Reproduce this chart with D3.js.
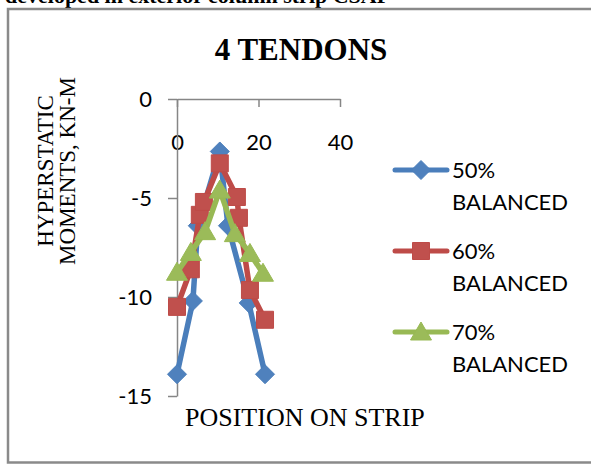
<!DOCTYPE html>
<html>
<head>
<meta charset="utf-8">
<script src="https://cdn.jsdelivr.net/npm/d3@7"></script>
<style>
  html, body { margin: 0; padding: 0; background: #fff; }
  svg { display: block; }
</style>
</head>
<body>
<svg id="chart" width="591" height="464"></svg>
<script>
// Hyperstatic moments along the exterior column strip, 4 tendons
const seriesNames = ["50% BALANCED", "60% BALANCED", "70% BALANCED"];
const blueX  = [0, 3.9, 5.1, 10.5, 12.5, 17.6, 21.6];
const blueY  = [-13.9, -10.2, -6.4, -2.65, -6.4, -10.3, -13.9];
const redX   = [0, 3.4, 5.6, 6.6, 10.5, 14.7, 15.2, 17.9, 21.6];
const redY   = [-10.5, -8.6, -5.85, -5.2, -3.25, -4.95, -6.0, -9.65, -11.15];
const greenX = [0, 3.4, 6.9, 10.5, 14.2, 17.9, 21.1];
const greenY = [-8.75, -7.75, -6.7, -4.6, -6.8, -7.8, -8.8];
const xTicks = [0, 20, 40];
const yTicks = [0, -5, -10, -15];

const series = [
  { name: seriesNames[0], xs: blueX,  ys: blueY,  line: "#4A7EBB", fill: "#4F81BD", marker: "diamond" },
  { name: seriesNames[1], xs: redX,   ys: redY,   line: "#BE4B48", fill: "#C0504D", marker: "square" },
  { name: seriesNames[2], xs: greenX, ys: greenY, line: "#98B954", fill: "#9BBB59", marker: "triangle" }
];

const svg = d3.select("#chart");
const axisColor = "#868686";
const tickFont = "Lato, 'Open Sans', sans-serif";
const serif = "'Liberation Serif', 'Times New Roman', serif";
const fmt = v => String(v); // plain hyphen for negatives

// caption line above the frame (runs off the top edge)
svg.append("text")
  .attr("x", 5).attr("y", 3)
  .attr("font-family", serif).attr("font-weight", "bold")
  .attr("font-size", 22).attr("fill", "#000")
  .text("developed in exterior column strip CSAP");

// chart frame
svg.append("path")
  .attr("d", "M600,9 H8 V462.5 H600")
  .attr("fill", "none").attr("stroke", "#8a8a8a").attr("stroke-width", 2.5);

// title
svg.append("text")
  .attr("x", 301).attr("y", 60)
  .attr("text-anchor", "middle")
  .attr("font-family", serif).attr("font-weight", "bold")
  .attr("font-size", 31).attr("fill", "#000")
  .text("4 TENDONS");

const x = d3.scaleLinear().domain([0, 40]).range([177, 340]);
const y = d3.scaleLinear().domain([0, -15]).range([99, 396]);

// x axis (values are all negative, so the axis sits at the top, y = 0)
const gx = svg.append("g")
  .attr("transform", `translate(0,${y(0)})`)
  .call(d3.axisBottom(x).tickValues(xTicks).tickFormat(fmt)
    .tickSize(8).tickPadding(27).tickSizeOuter(0));
// y axis
const gy = svg.append("g")
  .attr("transform", `translate(${x(0)},0)`)
  .call(d3.axisLeft(y).tickValues(yTicks).tickFormat(fmt)
    .tickSize(9).tickPadding(16).tickSizeOuter(0));

[gx, gy].forEach(g => {
  g.select(".domain").attr("stroke", axisColor).attr("stroke-width", 1.5);
  g.selectAll(".tick line").attr("stroke", axisColor).attr("stroke-width", 1.5);
  g.selectAll(".tick text")
    .attr("font-family", tickFont).attr("font-size", 22).attr("fill", "#000");
});
gy.selectAll(".tick text").attr("dy", "0.36em");

// axis titles
svg.append("text")
  .attr("x", x(0) + 8).attr("y", 426)
  .attr("font-family", serif).attr("font-size", 26).attr("fill", "#000")
  .text("POSITION ON STRIP");

const yTitle = svg.append("text")
  .attr("transform", "translate(46,171) rotate(-90)")
  .attr("text-anchor", "middle")
  .attr("font-family", serif).attr("font-size", 23).attr("fill", "#000");
yTitle.append("tspan").attr("x", 0).attr("dy", "0.3em").text("HYPERSTATIC");
yTitle.append("tspan").attr("x", 0).attr("dy", "0.95em").text("MOMENTS, KN-M");

// marker shapes centred on (0,0)
function markerPath(type) {
  if (type === "diamond") return "M0,-9.5 L9.5,0 L0,9.5 L-9.5,0 Z";
  if (type === "square") return "M-8.5,-8.5 H8.5 V8.5 H-8.5 Z";
  return "M0,-10 L10.5,8 L-10.5,8 Z";
}

const line = d3.line().x(d => x(d[0])).y(d => y(d[1]));

series.forEach(s => {
  const pts = s.xs.map((v, i) => [v, s.ys[i]]);
  const g = svg.append("g");
  g.append("path")
    .attr("d", line(pts))
    .attr("fill", "none").attr("stroke", s.line)
    .attr("stroke-width", 5.5).attr("stroke-linejoin", "round").attr("stroke-linecap", "round");
  g.selectAll("path.m").data(pts).join("path")
    .attr("class", "m")
    .attr("transform", d => `translate(${x(d[0])},${y(d[1])})`)
    .attr("d", markerPath(s.marker))
    .attr("fill", s.fill).attr("stroke", s.line).attr("stroke-width", 1);
});

// legend
const legendRows = [170, 251, 332];
series.forEach((s, i) => {
  const ly = legendRows[i];
  const g = svg.append("g").attr("transform", `translate(0,${ly})`);
  g.append("line")
    .attr("x1", 395).attr("x2", 447).attr("y1", 0).attr("y2", 0)
    .attr("stroke", s.line).attr("stroke-width", 5).attr("stroke-linecap", "round");
  g.append("path")
    .attr("transform", "translate(421,0)")
    .attr("d", markerPath(s.marker))
    .attr("fill", s.fill).attr("stroke", s.line).attr("stroke-width", 1);
  const parts = s.name.split(" ");
  const t = g.append("text")
    .attr("font-family", tickFont).attr("font-size", 22).attr("fill", "#000");
  t.append("tspan").attr("x", 452).attr("y", 0).attr("dy", "0.36em").text(parts[0]);
  t.append("tspan").attr("x", 452).attr("y", 32).attr("dy", "0.36em").text(parts[1]);
});
</script>
</body>
</html>
